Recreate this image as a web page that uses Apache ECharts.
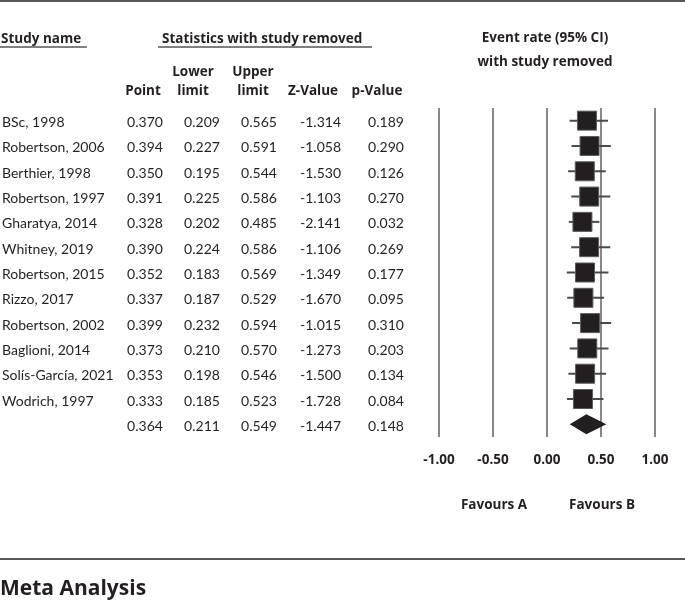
<!DOCTYPE html>
<html>
<head>
<meta charset="utf-8">
<title>Meta Analysis</title>
<script src="https://cdn.jsdelivr.net/npm/echarts@6.0.0/dist/echarts.min.js"></script>
<style>
  html, body { margin: 0; padding: 0; background: #fff; }
  #chart { width: 685px; height: 603px; }
</style>
</head>
<body>
<div id="chart"></div>
<script>
// study rows (last row is the pooled estimate, no name)
const studies = [
  'BSc, 1998', 'Robertson, 2006', 'Berthier, 1998', 'Robertson, 1997',
  'Gharatya, 2014', 'Whitney, 2019', 'Robertson, 2015', 'Rizzo, 2017',
  'Robertson, 2002', 'Baglioni, 2014', 'Solís-García, 2021', 'Wodrich, 1997', ''
];
const points = [0.370, 0.394, 0.350, 0.391, 0.328, 0.390, 0.352, 0.337, 0.399, 0.373, 0.353, 0.333, 0.364];
const lowers = [0.209, 0.227, 0.195, 0.225, 0.202, 0.224, 0.183, 0.187, 0.232, 0.210, 0.198, 0.185, 0.211];
const uppers = [0.565, 0.591, 0.544, 0.586, 0.485, 0.586, 0.569, 0.529, 0.594, 0.570, 0.546, 0.523, 0.549];
const zValues = [-1.314, -1.058, -1.530, -1.103, -2.141, -1.106, -1.349, -1.670, -1.015, -1.273, -1.500, -1.728, -1.447];
const pValues = [0.189, 0.290, 0.126, 0.270, 0.032, 0.269, 0.177, 0.095, 0.310, 0.203, 0.134, 0.084, 0.148];
const summaryIndex = studies.length - 1;

const ink = '#231f20';
const lineGray = '#555';
const bodyFont = 'Lato, "Open Sans", sans-serif';
const boldFont = '"Open Sans", Lato, sans-serif';

const rowIds = studies.map((s, i) => String(i));

// table columns: x anchor + alignment
const columns = [
  { x: 2, align: 'left', text: i => studies[i] },
  { x: 145, align: 'center', text: i => points[i].toFixed(3) },
  { x: 202, align: 'center', text: i => lowers[i].toFixed(3) },
  { x: 259, align: 'center', text: i => uppers[i].toFixed(3) },
  { x: 341, align: 'right', text: i => zValues[i].toFixed(3) },
  { x: 386, align: 'center', text: i => pValues[i].toFixed(3) }
];

const chart = echarts.init(document.getElementById('chart'));

function headerText(text, x, y, align, size) {
  return {
    type: 'text',
    x: x,
    y: y + 1,
    style: {
      text: text,
      align: align,
      verticalAlign: 'middle',
      fill: ink,
      font: 'bold ' + (size || 13.5) + 'px ' + boldFont
    }
  };
}

function hLine(x1, x2, y, w) {
  return {
    type: 'line',
    shape: { x1: x1, y1: y, x2: x2, y2: y },
    style: { stroke: lineGray, lineWidth: w || 1.5 }
  };
}

const option = {
  backgroundColor: '#fff',
  animation: false,
  grid: [
    { left: 0, width: 420, top: 108, height: 329 },
    { left: 439, right: 30, top: 108, height: 329 }
  ],
  xAxis: [
    { gridIndex: 0, type: 'value', min: 0, max: 420, show: false },
    {
      gridIndex: 1,
      type: 'value',
      min: -1,
      max: 1,
      interval: 0.5,
      axisLine: { show: false },
      axisTick: { show: false },
      axisLabel: {
        margin: 16,
        color: ink,
        fontWeight: 'bold',
        fontSize: 13.5,
        fontFamily: boldFont,
        formatter: v => v.toFixed(2)
      },
      splitLine: { show: true, lineStyle: { color: '#606060', width: 1.5 } }
    }
  ],
  yAxis: [
    { gridIndex: 0, type: 'category', data: rowIds, inverse: true, show: false },
    { gridIndex: 1, type: 'category', data: rowIds, inverse: true, show: false }
  ],
  series: [
    {
      // table text
      type: 'custom',
      xAxisIndex: 0,
      yAxisIndex: 0,
      data: studies.map((s, i) => [0, i]),
      renderItem: (params, api) => {
        const i = api.value(1);
        const y = api.coord([0, i])[1] + 2;
        return {
          type: 'group',
          children: columns.map(c => ({
            type: 'text',
            x: c.x,
            y: y,
            style: {
              text: c.text(i),
              align: c.align,
              verticalAlign: 'middle',
              fill: ink,
              font: '14px ' + bodyFont
            }
          }))
        };
      }
    },
    {
      // study estimates: CI line + square
      type: 'custom',
      xAxisIndex: 1,
      yAxisIndex: 1,
      data: points.slice(0, summaryIndex).map((p, i) => [lowers[i], uppers[i], p, i]),
      renderItem: (params, api) => {
        const i = api.value(3);
        const lo = api.coord([api.value(0), i]);
        const hi = api.coord([api.value(1), i]);
        const pt = api.coord([api.value(2), i]);
        const size = 19;
        return {
          type: 'group',
          children: [
            {
              type: 'line',
              shape: { x1: lo[0], y1: lo[1], x2: hi[0], y2: hi[1] },
              style: { stroke: '#4a4a4a', lineWidth: 2 }
            },
            {
              type: 'rect',
              shape: { x: pt[0] - size / 2, y: pt[1] - size / 2, width: size, height: size },
              style: { fill: ink, stroke: '#5a5a5a', lineWidth: 1 }
            }
          ]
        };
      }
    },
    {
      // pooled estimate diamond
      type: 'custom',
      xAxisIndex: 1,
      yAxisIndex: 1,
      data: [[lowers[summaryIndex], uppers[summaryIndex], points[summaryIndex], summaryIndex]],
      renderItem: (params, api) => {
        const i = api.value(3);
        const lo = api.coord([api.value(0), i]);
        const hi = api.coord([api.value(1), i]);
        const pt = api.coord([api.value(2), i]);
        const h = 10;
        return {
          type: 'polygon',
          shape: { points: [[lo[0], lo[1]], [pt[0], pt[1] - h], [hi[0], hi[1]], [pt[0], pt[1] + h]] },
          style: { fill: ink }
        };
      }
    }
  ],
  graphic: [
    hLine(0, 685, 1, 2),
    hLine(0, 685, 559, 2),
    headerText('Study name', 1, 38, 'left'),
    hLine(0, 87, 47),
    headerText('Statistics with study removed', 162, 38, 'left'),
    hLine(158, 372, 47),
    headerText('Lower', 193, 71, 'center'),
    headerText('Upper', 253, 71, 'center'),
    headerText('Point', 143, 90, 'center'),
    headerText('limit', 193, 90, 'center'),
    headerText('limit', 253, 90, 'center'),
    headerText('Z-Value', 313, 90, 'center'),
    headerText('p-Value', 377, 90, 'center'),
    headerText('Event rate (95% CI)', 545, 37, 'center'),
    headerText('with study removed', 545, 61, 'center'),
    headerText('Favours A', 494, 504, 'center'),
    headerText('Favours B', 602, 504, 'center'),
    headerText('Meta Analysis', 0, 588, 'left', 21)
  ]
};

chart.setOption(option);
</script>
</body>
</html>
